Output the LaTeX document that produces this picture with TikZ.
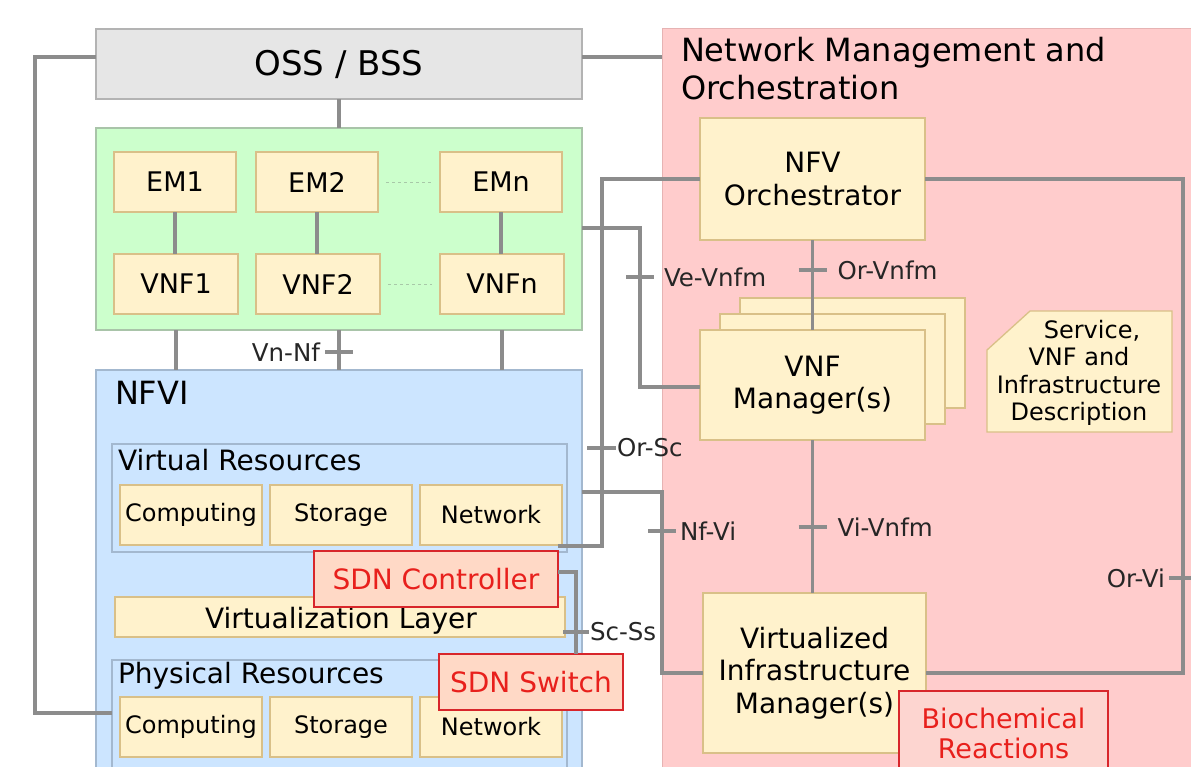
\documentclass[tikz,border=0pt]{standalone}
\usepackage{fontspec}
\setmainfont{DejaVu Sans}
\usetikzlibrary{calc}
\definecolor{linegray}{HTML}{8C8C8C}
\definecolor{yfill}{HTML}{FFF2CC}
\definecolor{ybord}{HTML}{D9C088}
\definecolor{gfill}{HTML}{CCFFCC}
\definecolor{gbord}{HTML}{A9C4A9}
\definecolor{bfill}{HTML}{CCE5FF}
\definecolor{bbord}{HTML}{A3B8CF}
\definecolor{pfill}{HTML}{FFCCCC}
\definecolor{pbord}{HTML}{E6B3B3}
\definecolor{ofill}{HTML}{E6E6E6}
\definecolor{obord}{HTML}{B3B3B3}
\definecolor{sfill}{HTML}{FFD9C6}
\definecolor{biofill}{HTML}{FDD5D0}
\definecolor{rbord}{HTML}{D8262B}
\definecolor{rtext}{HTML}{E8201C}
\definecolor{dotc}{HTML}{A8C8A8}
\newcommand{\fsOSS}{\fontsize{34}{40}\selectfont}
\newcommand{\fsTitle}{\fontsize{32}{38}\selectfont}
\newcommand{\fsBox}{\fontsize{27}{32}\selectfont}
\newcommand{\fsMgr}{\fontsize{28}{32.5}\selectfont}
\newcommand{\fsRes}{\fontsize{24}{28}\selectfont}
\newcommand{\fsLab}{\fontsize{24.5}{28}\selectfont}
\newcommand{\fsDesc}{\fontsize{24}{27.5}\selectfont}
\newcommand{\fsBig}{\fontsize{28}{32}\selectfont}
\begin{document}
\begin{tikzpicture}[x=1pt,y=-1pt,
  every node/.style={inner sep=0pt, outer sep=0pt},
  conn/.style={draw=linegray, line width=3.3pt},
  dotl/.style={draw=dotc, line width=1pt, dash pattern=on 3pt off 3pt},
  ybox/.style={rectangle, draw=ybord, fill=yfill, line width=1.3pt, align=center},
  obox/.style={rectangle, draw=obord, fill=ofill, line width=1.5pt, align=center},
  gbox/.style={rectangle, draw=gbord, fill=gfill, line width=1.5pt},
  bbox/.style={rectangle, draw=bbord, fill=bfill, line width=1.5pt},
  cbox/.style={rectangle, draw=bbord, line width=1.3pt},
  pbox/.style={rectangle, draw=pbord, fill=pfill, line width=1pt},
  sbox/.style={rectangle, draw=rbord, fill=sfill, line width=1.5pt, text=rtext, align=center},
  rbox/.style={rectangle, draw=rbord, fill=biofill, line width=1.5pt, text=rtext, align=center},
  lab/.style={font=\fsLab, text=black!85}
]
\useasboundingbox (0,0) rectangle (1191,766);
\clip (0,0) rectangle (1191,766);
\fill[white] (0,0) rectangle (1191,766);

% ---------- containers ----------
\node[pbox, anchor=north west, minimum width=545, minimum height=760] (nmo) at (662,28) {};
\node[anchor=north west, align=left, font=\fsTitle] (nmotitle) at (681,37) {Network Management and\\Orchestration};

\node[obox, minimum width=486, minimum height=70, font=\fsOSS] (oss) at (339,64) {OSS / BSS};
\node[gbox, minimum width=486, minimum height=202] (green) at (339,229) {};
\node[bbox, anchor=north west, minimum width=486, minimum height=420] (nfvi) at (96,370) {};
\node[anchor=west, font=\fsTitle] (nfvilab) at (115,393) {NFVI};

% ---------- EM / VNF ----------
\node[ybox, minimum width=122, minimum height=60, font=\fsBox] (em1) at (175,182) {EM1};
\node[ybox, minimum width=122, minimum height=60, font=\fsBox] (em2) at (317,182) {EM2};
\node[ybox, minimum width=122, minimum height=60, font=\fsBox] (emn) at (501,182) {EMn};
\node[ybox, minimum width=124, minimum height=60, font=\fsBox] (vnf1) at (176,284) {VNF1};
\node[ybox, minimum width=124, minimum height=60, font=\fsBox] (vnf2) at (318,284) {VNF2};
\node[ybox, minimum width=124, minimum height=60, font=\fsBox] (vnfn) at (502,284) {VNFn};
\draw[conn] (em1.south) -- (em1.south |- vnf1.north);
\draw[conn] (em2.south) -- (em2.south |- vnf2.north);
\draw[conn] (emn.south) -- (emn.south |- vnfn.north);
\draw[dotl] ([xshift=8]em2.east) -- ([xshift=-8]emn.west);
\draw[dotl] ([xshift=8]vnf2.east) -- ([xshift=-8]vnfn.west);

% ---------- NFVI ----------
\node[cbox, anchor=north west, minimum width=455, minimum height=108] (vr) at (112,444) {};
\node[anchor=west, font=\fsBig] (vrlab) at (118,460) {Virtual Resources};
\node[ybox, minimum width=142, minimum height=60, font=\fsRes] (comp1) at (191,515) {Computing};
\node[ybox, minimum width=142, minimum height=60, font=\fsRes] (stor1) at (341,515) {Storage};
\node[ybox, minimum width=142, minimum height=60, font=\fsRes] (net1) at (491,515) {Network};
\node[ybox, minimum width=450, minimum height=40] (vlayer) at (340,617) {};
\node[font=\fsBig] (vltext) at (341,621) {Virtualization Layer};
\node[cbox, anchor=north west, minimum width=455, minimum height=130] (pr) at (112,660) {};
\node[anchor=west, font=\fsBig] (prlab) at (118,676) {Physical Resources};
\node[ybox, minimum width=142, minimum height=60, font=\fsRes] (comp2) at (191,727) {Computing};
\node[ybox, minimum width=142, minimum height=60, font=\fsRes] (stor2) at (341,727) {Storage};
\node[ybox, minimum width=142, minimum height=60, font=\fsRes] (net2) at (491,727) {Network};
\node[sbox, minimum width=244, minimum height=56, font=\fsBig] (sdnc) at (436,579) {SDN Controller};
\node[sbox, minimum width=184, minimum height=56, font=\fsBig] (sdns) at (531,682) {SDN Switch};

% ---------- MANO ----------
\node[ybox, minimum width=225, minimum height=122, font=\fsMgr] (orch) at (812.5,179) {NFV\\Orchestrator};
\node[ybox, minimum width=225, minimum height=110] (vnfm3) at (852.5,353) {};
\node[ybox, minimum width=225, minimum height=110] (vnfm2) at (832.5,369) {};
\node[ybox, minimum width=225, minimum height=110, font=\fsMgr] (vnfm) at (812.5,385) {VNF\\Manager(s)};
\node[ybox, minimum width=223, minimum height=160, font=\fsMgr] (vim) at (814.5,673) {Virtualized\\Infrastructure\\Manager(s)};
\draw[draw=ybord, fill=yfill, line width=1.3pt] (987,350) -- (1030,311) -- (1172,311) -- (1172,432) -- (987,432) -- cycle;
\node[align=center, font=\fsDesc] (desc) at (1079,373) {\hspace*{26pt}Service,\\VNF and\\Infrastructure\\Description};
\node[rbox, minimum width=209, minimum height=84, font=\fontsize{27}{30}\selectfont] (bio) at (1003.5,733) {Biochemical\\Reactions};

% ---------- connectors ----------
\coordinate (lA) at (35,57);
\coordinate (lB) at (35,713);
\draw[conn] (oss.west |- lA) -- (lA) -- (lB) -- (pr.west |- lB);
\draw[conn] (oss.east |- lA) -- (nmo.west |- lA);
\draw[conn] (oss.south) -- (green.north);

% Vn-Nf
\draw[conn] (vnf1.south |- green.south) -- (vnf1.south |- nfvi.north);
\draw[conn] (green.south) -- (nfvi.north);
\draw[conn] (vnfn.south |- green.south) -- (vnfn.south |- nfvi.north);
\coordinate (vnnf) at (339,352);
\draw[conn] ([xshift=-14]vnnf) -- ([xshift=14]vnnf);
\node[lab, anchor=east] (vnnflab) at ([xshift=-19]vnnf) {Vn-Nf};

% Ve-Vnfm
\coordinate (veA) at (640,228);
\coordinate (veB) at (640,387);
\draw[conn] (green.east |- veA) -- (veA) -- (veB) -- (vnfm.west |- veB);
\coordinate (vevnfm) at (640,277);
\draw[conn] ([xshift=-14]vevnfm) -- ([xshift=14]vevnfm);
\node[lab, anchor=west] (vevnfmlab) at ([xshift=24]vevnfm) {Ve-Vnfm};

% Or-Sc
\coordinate (scA) at (602,179);
\coordinate (scB) at (602,546);
\draw[conn] (orch.west) -- (scA) -- (scB) -- (sdnc.east |- scB);
\coordinate (orsc) at (602,448);
\draw[conn] ([xshift=-15]orsc) -- ([xshift=14]orsc);
\node[lab, anchor=west] (orsclab) at ([xshift=15]orsc) {Or-Sc};

% Nf-Vi
\coordinate (nfA) at (662,492);
\coordinate (nfB) at (662,673);
\draw[conn] (nfvi.east |- nfA) -- (nfA) -- (nfB) -- (vim.west |- nfB);
\coordinate (nfvi2) at (662,531);
\draw[conn] ([xshift=-14]nfvi2) -- ([xshift=14]nfvi2);
\node[lab, anchor=west] (nfvilab2) at ([xshift=18]nfvi2) {Nf-Vi};

% Sc-Ss
\coordinate (ssA) at (576,572);
\draw[conn] (sdnc.east |- ssA) -- (ssA) -- (ssA |- sdns.north);
\coordinate (scss) at (576,632);
\draw[conn] ([xshift=-13]scss) -- ([xshift=13]scss);
\node[lab, anchor=west] (scsslab) at ([xshift=14]scss) {Sc-Ss};

% Or-Vnfm, Vi-Vnfm
\draw[conn] (orch.south) -- (vnfm.north);
\coordinate (orvnfm) at (812.5,270);
\draw[conn] ([xshift=-14]orvnfm) -- ([xshift=14]orvnfm);
\node[lab, anchor=west] (orvnfmlab) at ([xshift=25]orvnfm) {Or-Vnfm};
\draw[conn] (vnfm.south) -- (vnfm.south |- vim.north);
\coordinate (vivnfm) at (812.5,527);
\draw[conn] ([xshift=-14]vivnfm) -- ([xshift=14]vivnfm);
\node[lab, anchor=west] (vivnfmlab) at ([xshift=25]vivnfm) {Vi-Vnfm};

% Or-Vi
\coordinate (viA) at (1183,179);
\coordinate (viB) at (1183,673);
\draw[conn] (orch.east) -- (viA) -- (viB) -- (vim.east |- viB);
\coordinate (orvi) at (1183,578);
\draw[conn] ([xshift=-14]orvi) -- ([xshift=14]orvi);
\node[lab, anchor=east] (orvilab) at ([xshift=-18]orvi) {Or-Vi};
\end{tikzpicture}
\end{document}
